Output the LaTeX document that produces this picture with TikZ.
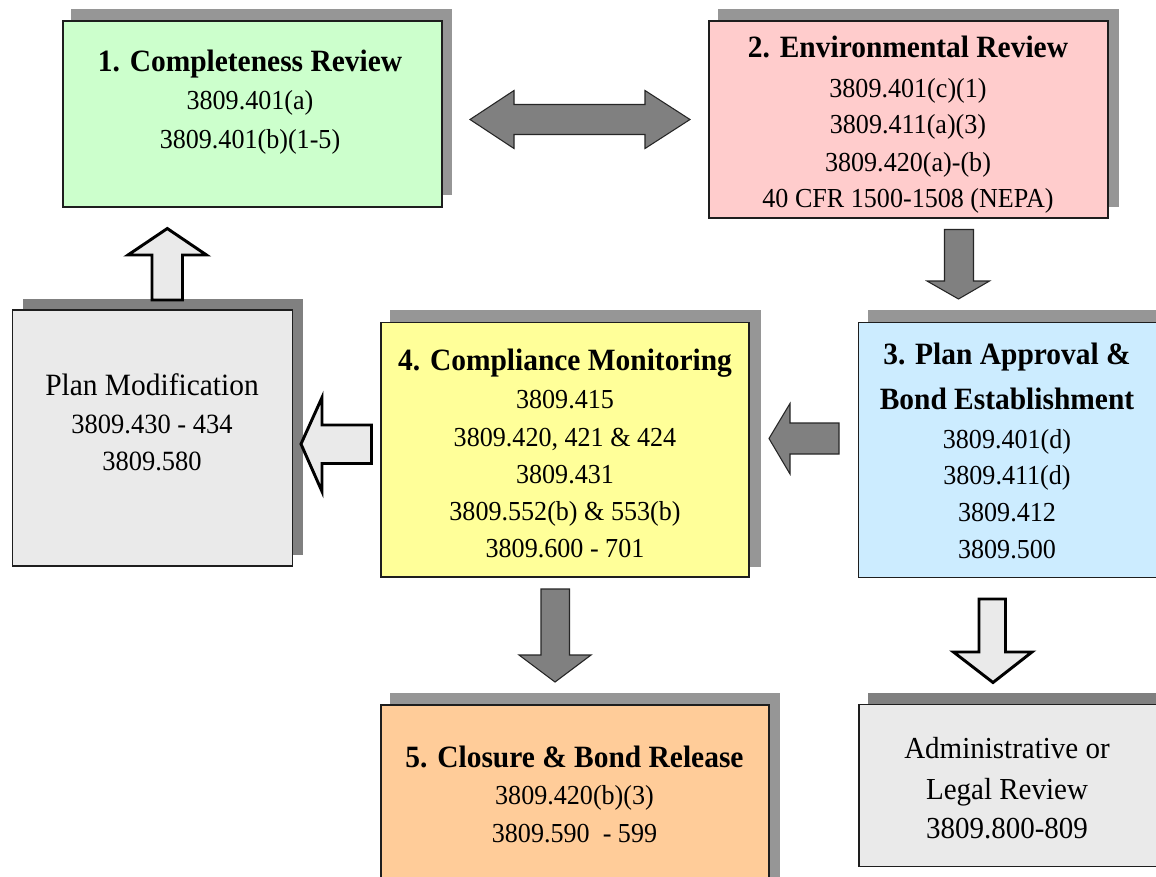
\documentclass[tikz,border=0pt]{standalone}
\usepackage{fontspec}
\setmainfont{Liberation Serif}[FakeStretch=0.95]
\usetikzlibrary{fit}
\definecolor{cgreen}{HTML}{CCFFCC}
\definecolor{cpink}{HTML}{FFCCCC}
\definecolor{cblue}{HTML}{CCECFF}
\definecolor{cyellow}{HTML}{FFFF99}
\definecolor{corange}{HTML}{FFCC99}
\definecolor{cgray}{HTML}{EAEAEA}
\definecolor{shadeA}{HTML}{969696}
\definecolor{shadeB}{HTML}{808080}
\definecolor{agray}{HTML}{808080}
\definecolor{edge}{HTML}{1E1E1E}
\tikzset{
  panelbox/.style={draw=edge, line width=1.1pt, inner sep=0pt, outer sep=0pt, rectangle},
  ttl/.style={anchor=base, inner sep=0pt, font=\fontsize{23.25}{28}\selectfont\bfseries},
  reg/.style={anchor=base, inner sep=0pt, font=\fontsize{20.6}{25}\selectfont},
  big/.style={anchor=base, inner sep=0pt, font=\fontsize{22.9}{28}\selectfont},
  pmnum/.style={anchor=base, inner sep=0pt, font=\fontsize{20.9}{25}\selectfont},
  grayarrow/.style={fill=agray, draw=black!85, line width=0.8pt, line join=miter},
  whitearrow/.style={fill=cgray, draw=black, line width=2.2pt, line join=miter},
}
\begin{document}
\begin{tikzpicture}[x=0.75pt, y=-0.75pt]
\useasboundingbox (0,0) rectangle (1156,876);
\clip (0,0) rectangle (1156,876);
\fill[white] (0,0) rectangle (1156,876);

% shadows
\fill[shadeA] (71,8.5) rectangle (452,195);
\fill[shadeA] (718,8.5) rectangle (1118.5,207);
\fill[shadeA] (868,310) rectangle (1175,566);
\fill[shadeA] (390,310) rectangle (760.5,566.5);
\fill[shadeB] (22.5,298.5) rectangle (302.5,555);
\fill[shadeA] (390,692.5) rectangle (780,895);
\fill[shadeB] (868,692.5) rectangle (1175,856);

% boxes
\node[panelbox, fill=cgreen,  fit={(63,21) (442,207)}] (b1) {};
\node[panelbox, fill=cpink,   fit={(709,21) (1108,218)}] (b2) {};
\node[panelbox, fill=cblue,   fit={(858.5,322.5) (1170,577.5)}] (b3) {};
\node[panelbox, fill=cyellow, fit={(381,322.5) (749,577)}] (b4) {};
\node[panelbox, fill=cgray,   fit={(12.5,310) (292.5,566)}] (pm) {};
\node[panelbox, fill=corange, fit={(381,705) (769,900)}] (b5) {};
\node[panelbox, fill=cgray,   fit={(859,704.5) (1170,866.5)}] (adm) {};

% texts box 1
\node[ttl] (t1a) at (250,71) {1. Completeness Review};
\node[reg] (t1b) at (250,109) {3809.401(a)};
\node[reg] (t1c) at (250,148) {3809.401(b)(1-5)};
% box 2
\node[ttl] (t2a) at (908,57) {2. Environmental Review};
\node[reg] (t2b) at (908,97) {3809.401(c)(1)};
\node[reg] (t2c) at (908,133) {3809.411(a)(3)};
\node[reg] (t2d) at (908,171) {3809.420(a)-(b)};
\node[reg] (t2e) at (908,207) {40 CFR 1500-1508 (NEPA)};
% box 3
\node[ttl] (t3a) at (1007,364) {3. Plan Approval \&};
\node[ttl] (t3b) at (1007,409) {Bond Establishment};
\node[reg] (t3c) at (1007,448) {3809.401(d)};
\node[reg] (t3d) at (1007,484) {3809.411(d)};
\node[reg] (t3e) at (1007,521) {3809.412};
\node[reg] (t3f) at (1007,558) {3809.500};
% box 4
\node[ttl] (t4a) at (565,370) {4. Compliance Monitoring};
\node[reg] (t4b) at (565,408) {3809.415};
\node[reg] (t4c) at (565,446) {3809.420, 421 \& 424};
\node[reg] (t4d) at (565,483) {3809.431};
\node[reg] (t4e) at (565,520) {3809.552(b) \& 553(b)};
\node[reg] (t4f) at (565,557) {3809.600 - 701};
% plan modification
\node[big, font=\fontsize{23.25}{28}\selectfont] (tpa) at (152,395) {Plan Modification};
\node[pmnum] (tpb) at (152,433) {3809.430 - 434};
\node[pmnum] (tpc) at (152,470.5) {3809.580};
% box 5
\node[ttl] (t5a) at (574.5,767) {5. Closure \& Bond Release};
\node[reg] (t5b) at (574.5,804.5) {3809.420(b)(3)};
\node[reg] (t5c) at (574.5,842.5) {3809.590\ \ - 599};
% admin
\node[big] (taa) at (1007,758) {Administrative or};
\node[big] (tab) at (1007,799.5) {Legal Review};
\node[big] (tac) at (1007,838) {3809.800-809};

% block arrows
% 1 <-> 2
\draw[grayarrow] (470,119.5) -- (514,90.5) -- (514,104.5) -- (645,104.5) -- (645,90.5) -- (690,119.5)
  -- (645,148.5) -- (645,134.5) -- (514,134.5) -- (514,148.5) -- cycle;
% 2 -> 3
\draw[grayarrow] (944.5,229.5) -- (973.5,229.5) -- (973.5,281) -- (989.5,281) -- (958.5,299)
  -- (927,281) -- (944.5,281) -- cycle;
% 3 -> 4
\draw[grayarrow] (769,438.5) -- (790,403.5) -- (790,423) -- (839,423) -- (839,454) -- (790,454)
  -- (790,474) -- cycle;
% 4 -> 5
\draw[grayarrow] (541,589) -- (569.5,589) -- (569.5,655) -- (591,655) -- (555,682) -- (519,655)
  -- (541,655) -- cycle;
% plan mod -> 1
\draw[whitearrow] (152,300) -- (152,255) -- (128,255) -- (167.3,228.5) -- (206.5,255) -- (182.5,255)
  -- (182.5,300) -- cycle;
% 4 -> plan mod
\draw[whitearrow] (301,444) -- (322,397.5) -- (322,425) -- (371.5,425) -- (371.5,463.5) -- (322,463.5)
  -- (322,491.5) -- cycle;
% 3 -> admin
\draw[whitearrow] (979,599) -- (1005.5,599) -- (1005.5,652) -- (1032,652) -- (993,682.5) -- (953.5,652)
  -- (979,652) -- cycle;
\end{tikzpicture}
\end{document}
